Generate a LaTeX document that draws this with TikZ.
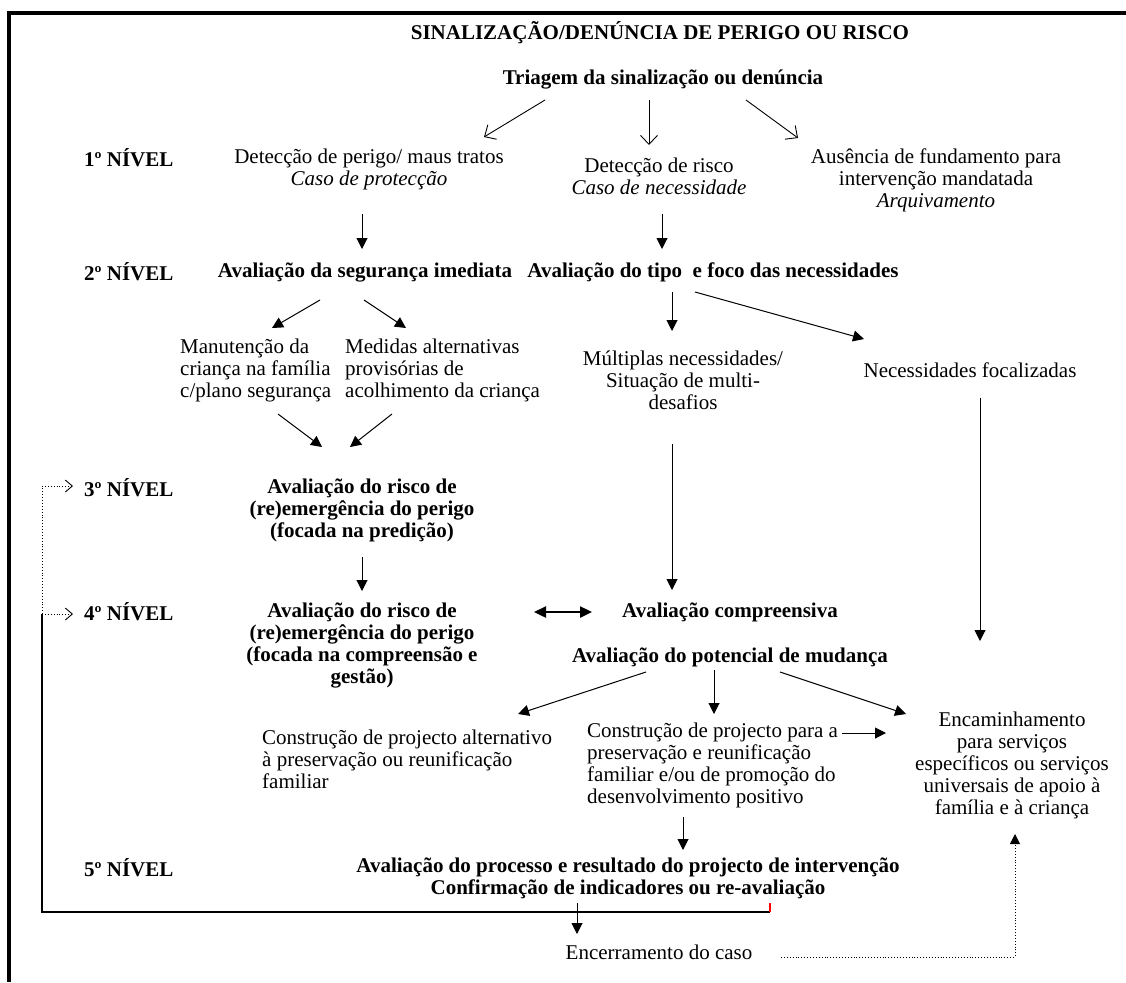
\documentclass[tikz,border=0pt]{standalone}
\usepackage{fontspec}
\setmainfont{Liberation Serif}
\usetikzlibrary{arrows.meta}
\newcommand\txtsize{\fontsize{21}{22}\selectfont\lineskiplimit=-100pt\relax}
\begin{document}
\begin{tikzpicture}[x=1pt,y=-1pt,
  lbl/.style={font=\txtsize, inner sep=0pt},
  hd/.style={font=\txtsize\bfseries, inner sep=0pt},
  lvl/.style={font=\txtsize\bfseries, inner sep=0pt, anchor=west},
  openarr/.style={line width=0.9pt, -{Straight Barb[length=9pt,width=17pt]}},
  arr/.style={line width=1pt, -{Triangle[length=11pt,width=11pt]}},
  dblarr/.style={line width=2.4pt, {Triangle[length=12pt,width=11pt]}-{Triangle[length=12pt,width=11pt]}},
  dotarr/.style={line width=0.9pt, dotted, -{Straight Barb[length=7pt,width=12pt,sep=0pt]}},
  loopline/.style={line width=2pt}
]
\useasboundingbox (0,0) rectangle (1126,982);

% outer border: top and left edges
\draw[line width=4.5pt] (1126,13) -- (9,13) -- (9,982);

% headings
\node[hd] (title) at (660,33) {SINALIZAÇÃO/DENÚNCIA DE PERIGO OU RISCO};
\node[hd] (triagem) at (663,80) {Triagem da sinalização ou denúncia};

% level labels
\node[lvl] (n1) at (84,158) {1º NÍVEL};
\node[lvl] (n2) at (84,272) {2º NÍVEL};
\node[lvl] (n3) at (84,488) {3º NÍVEL};
\node[lvl] (n4) at (84,612) {4º NÍVEL};
\node[lvl] (n5) at (84,868) {5º NÍVEL};

% level 1
\node[lbl, align=center] (perigo) at (369,169) {Detecção de perigo/ maus tratos\\\textit{Caso de protecção}};
\node[lbl, align=center] (risco) at (659,176) {Detecção de risco\\\textit{Caso de necessidade}};
\node[lbl, align=center] (ausencia) at (936,180) {Ausência de fundamento para\\intervenção mandatada\\\textit{Arquivamento}};

% level 2
\node[hd] (seg) at (365,272) {Avaliação da segurança imediata};
\node[hd] (tipo) at (713,272) {Avaliação do tipo \ e foco das necessidades};
\node[lbl, align=left, anchor=west] (manut) at (180,370) {Manutenção da\\criança na família\\c/plano segurança};
\node[lbl, align=left, anchor=west] (medidas) at (345,370) {Medidas alternativas\\provisórias de\\acolhimento da criança};
\node[lbl, align=center] (multi) at (683,380) {Múltiplas necessidades/\\Situação de multi-\\desafios};
\node[lbl] (focal) at (970,370) {Necessidades focalizadas};

% level 3
\node[hd, align=center] (risco3) at (362,510) {Avaliação do risco de\\(re)emergência do perigo\\(focada na predição)};

% level 4
\node[hd, align=center] (risco4) at (362,645) {Avaliação do risco de\\(re)emergência do perigo\\(focada na compreensão e\\gestão)};
\node[hd] (compr) at (730,612) {Avaliação compreensiva};
\node[hd] (pot) at (730,657) {Avaliação do potencial de mudança};
\node[lbl, align=left, anchor=west] (alt) at (262,759) {Construção de projecto alternativo\\à preservação ou reunificação\\familiar};
\node[lbl, align=left, anchor=west] (para) at (587,765) {Construção de projecto para a\\preservação e reunificação\\familiar e/ou de promoção do\\desenvolvimento positivo};
\node[lbl, align=center] (encam) at (1012,765) {Encaminhamento\\para serviços\\específicos ou serviços\\universais de apoio à\\família e à criança};

% level 5
\node[hd, align=center] (proc) at (628,878) {Avaliação do processo e resultado do projecto de intervenção\\Confirmação de indicadores ou re-avaliação};
\node[lbl] (encer) at (659,952) {Encerramento do caso};

% connector end points
\coordinate (t1a) at (545,100); \coordinate (t1b) at (484,137);
\coordinate (t2a) at (649,100); \coordinate (t2b) at (649,145);
\coordinate (t3a) at (746,100); \coordinate (t3b) at (798,138);
\coordinate (p1a) at (362,214); \coordinate (p1b) at (362,249);
\coordinate (r1a) at (662,214); \coordinate (r1b) at (662,249);
\coordinate (s1a) at (320,300); \coordinate (s1b) at (272,328);
\coordinate (s2a) at (364,300); \coordinate (s2b) at (406,328);
\coordinate (k1a) at (672,292); \coordinate (k1b) at (672,331);
\coordinate (k2a) at (695,292); \coordinate (k2b) at (864,339);
\coordinate (m1a) at (278,414); \coordinate (m1b) at (322,447);
\coordinate (m2a) at (392,414); \coordinate (m2b) at (350,447);
\coordinate (u1a) at (672,444); \coordinate (u1b) at (672,590);
\coordinate (f1a) at (980,398); \coordinate (f1b) at (980,641);
\coordinate (q1a) at (362,557); \coordinate (q1b) at (362,591);
\coordinate (d1a) at (534,612); \coordinate (d1b) at (592,612);
\coordinate (v1a) at (646,672); \coordinate (v1b) at (518,714);
\coordinate (v2a) at (714,670); \coordinate (v2b) at (714,714);
\coordinate (v3a) at (780,672); \coordinate (v3b) at (906,714);
\coordinate (w1a) at (842,733); \coordinate (w1b) at (886,733);
\coordinate (w2a) at (683,817); \coordinate (w2b) at (683,850);
\coordinate (e1a) at (577,903); \coordinate (e1b) at (577,934);
\coordinate (lpR) at (770,912); \coordinate (lpL) at (42,912);
\coordinate (lp4) at (42,614); \coordinate (lp3) at (42,486);
\coordinate (lp4t) at (73,614); \coordinate (lp3t) at (73,486);
\coordinate (dt1) at (781,957); \coordinate (dt2) at (1015,957); \coordinate (dt3) at (1015,834);

% triage branches
\draw[openarr] (t1a) -- (t1b);
\draw[openarr] (t2a) -- (t2b);
\draw[openarr] (t3a) -- (t3b);

% level 1 to level 2
\draw[arr] (p1a) -- (p1b);
\draw[arr] (r1a) -- (r1b);

% level 2 branches
\draw[arr] (s1a) -- (s1b);
\draw[arr] (s2a) -- (s2b);
\draw[arr] (k1a) -- (k1b);
\draw[arr] (k2a) -- (k2b);
\draw[arr] (m1a) -- (m1b);
\draw[arr] (m2a) -- (m2b);
\draw[arr] (u1a) -- (u1b);
\draw[arr] (f1a) -- (f1b);

% level 3 to level 4
\draw[arr] (q1a) -- (q1b);
\draw[dblarr] (d1a) -- (d1b);

% outcomes of the change assessment
\draw[arr] (v1a) -- (v1b);
\draw[arr] (v2a) -- (v2b);
\draw[arr] (v3a) -- (v3b);
\draw[arr] (w1a) -- (w1b);
\draw[arr] (w2a) -- (w2b);
\draw[arr] (e1a) -- (e1b);

% feedback loop to levels 3 and 4
\draw[loopline] (lpR) -- (lpL) -- (lp4);
\draw[red, line width=2pt] (lpR) -- ++(0,-9);
\draw[line width=0.9pt, dotted] (lp4) -- (lp3);
\draw[dotarr] (lp3) -- (lp3t);
\draw[dotarr] (lp4) -- (lp4t);

% case closure to referral
\draw[line width=0.9pt, dotted, -{Triangle[length=10pt,width=10pt]}] (dt1) -- (dt2) -- (dt3);
\end{tikzpicture}
\end{document}
